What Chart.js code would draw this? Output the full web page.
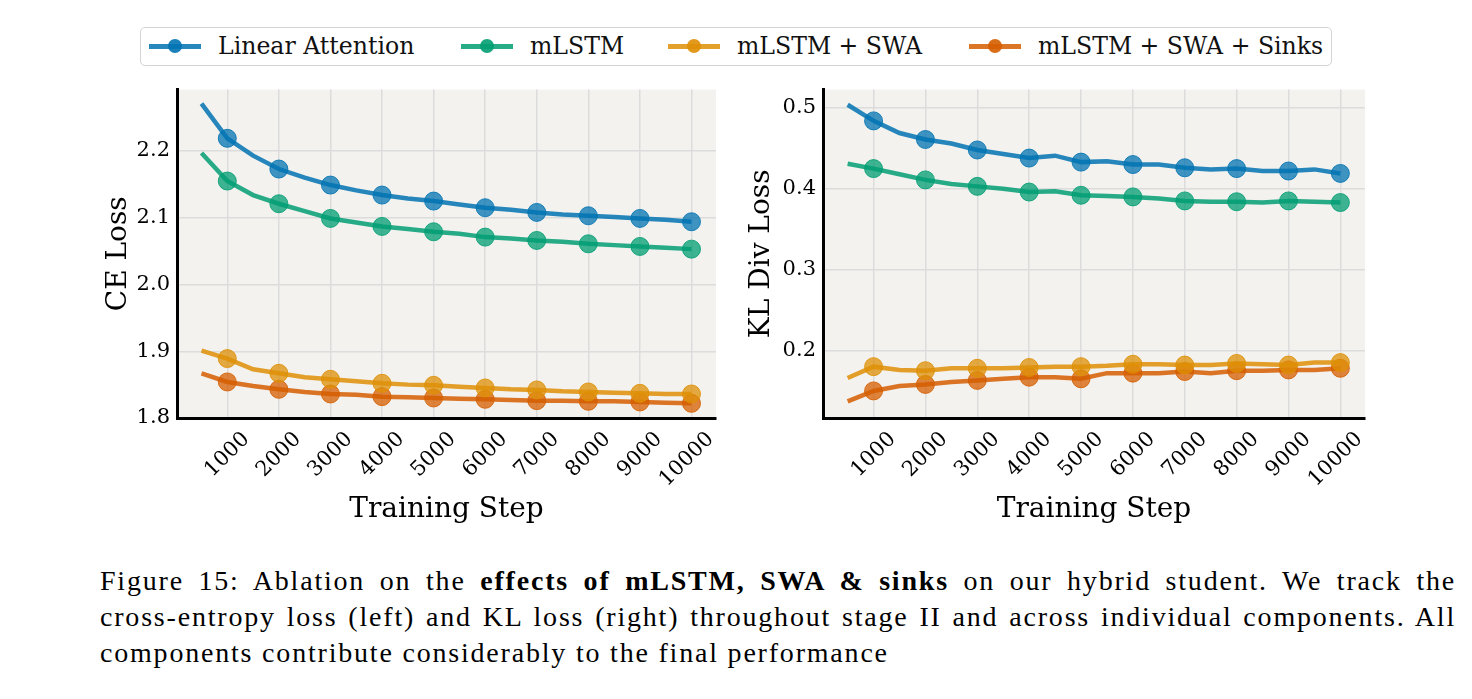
<!DOCTYPE html>
<html>
<head>
<meta charset="utf-8">
<script src="https://cdn.jsdelivr.net/npm/chart.js@4"></script>
<style>
  body { margin: 0; background: #fff; width: 1472px; height: 699px; position: relative; overflow: hidden; }
  .box { position: absolute; }
  #legend { position: absolute; left: 140px; top: 27px; width: 1192px; height: 39px; border: 1.5px solid #d4d4d4; border-radius: 5px;
            box-sizing: border-box; font-family: "DejaVu Serif"; font-size: 23.6px; color: #111; white-space: nowrap; }
  .item { position: absolute; top: 0; height: 36px; display: flex; align-items: center; }
  .sample { position: relative; width: 52px; height: 20px; margin-right: 17px; flex-shrink: 0; }
  .sample .ln { position: absolute; left: 0; right: 0; top: 8px; height: 4.5px; }
  .sample .dot { position: absolute; left: 19px; top: 3px; width: 14px; height: 14px; border-radius: 50%; }
  #caption { position: absolute; left: 100px; top: 563px; width: 1356px; font-family: "Liberation Serif"; font-size: 28px; letter-spacing: 1.8px; line-height: 36px; color: #000; }
  #caption .j { text-align: justify; text-align-last: justify; }
</style>
</head>
<body>
<div id="legend"></div>
<div class="box" style="left:0;top:70px"><canvas id="ce" width="740" height="470"></canvas></div>
<div class="box" style="left:740px;top:70px"><canvas id="kl" width="732" height="470"></canvas></div>
<div id="caption">
  <div class="j">Figure 15: Ablation on the <b>effects of mLSTM, SWA &amp; sinks</b> on our hybrid student. We track the</div>
  <div class="j">cross-entropy loss (left) and KL loss (right) throughout stage II and across individual components. All</div>
  <div>components contribute considerably to the final performance</div>
</div>
<script>
// データ
const seriesNames = ["Linear Attention", "mLSTM", "mLSTM + SWA", "mLSTM + SWA + Sinks"];
const seriesColors = ["1, 115, 178", "2, 158, 115", "222, 143, 5", "213, 94, 0"];
const steps = [500, 1000, 1500, 2000, 2500, 3000, 3500, 4000, 4500, 5000, 5500, 6000, 6500, 7000, 7500, 8000, 8500, 9000, 9500, 10000];
const xTicks = [1000, 2000, 3000, 4000, 5000, 6000, 7000, 8000, 9000, 10000];

const ceLinear = [2.271, 2.219, 2.193, 2.173, 2.160, 2.149, 2.141, 2.134, 2.129, 2.125, 2.120, 2.115, 2.112, 2.108, 2.105, 2.103, 2.101, 2.099, 2.097, 2.094];
const ceMlstm  = [2.197, 2.155, 2.134, 2.121, 2.110, 2.099, 2.093, 2.087, 2.083, 2.079, 2.076, 2.071, 2.069, 2.066, 2.064, 2.061, 2.059, 2.057, 2.055, 2.053];
const ceSwa    = [1.901, 1.889, 1.873, 1.867, 1.861, 1.858, 1.855, 1.852, 1.850, 1.849, 1.847, 1.845, 1.843, 1.842, 1.840, 1.839, 1.838, 1.837, 1.836, 1.836];
const ceSinks  = [1.867, 1.854, 1.848, 1.843, 1.839, 1.836, 1.835, 1.832, 1.831, 1.830, 1.829, 1.828, 1.827, 1.826, 1.826, 1.825, 1.825, 1.824, 1.823, 1.822];
const ceTicks = [1.8, 1.9, 2.0, 2.1, 2.2];

const klLinear = [0.504, 0.484, 0.469, 0.461, 0.456, 0.448, 0.443, 0.438, 0.441, 0.433, 0.434, 0.430, 0.430, 0.426, 0.424, 0.425, 0.422, 0.422, 0.424, 0.419];
const klMlstm  = [0.431, 0.425, 0.418, 0.411, 0.406, 0.403, 0.400, 0.396, 0.397, 0.392, 0.391, 0.390, 0.388, 0.385, 0.384, 0.384, 0.383, 0.385, 0.384, 0.383];
const klSwa    = [0.166, 0.180, 0.176, 0.175, 0.178, 0.178, 0.178, 0.179, 0.180, 0.180, 0.181, 0.183, 0.183, 0.182, 0.182, 0.184, 0.183, 0.182, 0.185, 0.185];
const klSinks  = [0.137, 0.150, 0.156, 0.158, 0.161, 0.163, 0.165, 0.167, 0.167, 0.165, 0.172, 0.172, 0.172, 0.174, 0.172, 0.175, 0.175, 0.176, 0.176, 0.178];
const klTicks = [0.2, 0.3, 0.4, 0.5];

// 凡例 (HTML) - 各項目の左端位置 (凡例枠からの距離)
const legendLeft = [8, 320, 527, 828];
const legend = document.getElementById("legend");
seriesNames.forEach((name, i) => {
  const c = seriesColors[i];
  legend.insertAdjacentHTML("beforeend",
    `<div class="item" style="left:${legendLeft[i]}px"><div class="sample"><div class="ln" style="background:rgba(${c},0.85)"></div>` +
    `<div class="dot" style="background:rgba(${c},0.9)"></div></div><span>${name}</span></div>`);
});

const plotBg = {
  id: "plotBg",
  beforeDraw(chart) {
    const a = chart.chartArea, ctx = chart.ctx;
    ctx.save();
    ctx.fillStyle = "#f3f2ee";
    ctx.fillRect(a.left, a.top, a.right - a.left, a.bottom - a.top);
    ctx.restore();
  }
};

const tickFont = { family: "DejaVu Serif", size: 21 };
const titleFont = { family: "DejaVu Serif", size: 28, lineHeight: 1.2 };

function makeDatasets(lists) {
  return lists.map((vals, i) => ({
    label: seriesNames[i],
    data: steps.map((s, k) => ({ x: s, y: vals[k] })),
    borderColor: `rgba(${seriesColors[i]}, 0.85)`,
    backgroundColor: `rgba(${seriesColors[i]}, 0.75)`,
    pointBackgroundColor: `rgba(${seriesColors[i]}, 0.75)`,
    pointBorderColor: `rgba(${seriesColors[i]}, 0.85)`,
    pointBorderWidth: 1,
    borderWidth: 4.5,
    tension: 0,
    pointRadius: ctx => (ctx.raw && ctx.raw.x % 1000 === 0) ? 9 : 0,
    pointHoverRadius: 0
  }));
}

function makeChart(id, lists, yMin, yMax, yTicks, yTitle, yWidth, yTitlePad, rightPad) {
  return new Chart(document.getElementById(id), {
    type: "line",
    data: { datasets: makeDatasets(lists) },
    options: {
      responsive: false,
      animation: false,
      layout: { padding: { top: 14, right: rightPad, left: 0, bottom: 0 } },
      plugins: { legend: { display: false }, tooltip: { enabled: false } },
      scales: {
        x: {
          type: "linear", min: 25, max: 10475,
          afterBuildTicks: s => { s.ticks = xTicks.map(v => ({ value: v })); },
          afterFit: s => { s.height = 122; },
          ticks: { font: tickFont, color: "#000", minRotation: 45, maxRotation: 45, autoSkip: false, padding: 9, labelOffset: 19,
                   callback: v => String(v) },
          grid: { color: "#dcdcdc", lineWidth: 1.5, drawTicks: false },
          border: { display: true, color: "#000", width: 3 },
          title: { display: true, text: "Training Step", font: titleFont, color: "#000", padding: { top: 0, bottom: 13 } }
        },
        y: {
          min: yMin, max: yMax,
          afterBuildTicks: s => { s.ticks = yTicks.map(v => ({ value: v })); },
          afterFit: s => { s.width = yWidth; },
          ticks: { font: tickFont, color: "#000", padding: 7, callback: v => v.toFixed(1) },
          grid: { color: "#dcdcdc", lineWidth: 1.5, drawTicks: false },
          border: { display: true, color: "#000", width: 3 },
          title: { display: true, text: yTitle, font: titleFont, color: "#000", padding: { top: yTitlePad, bottom: 0 } }
        }
      }
    },
    plugins: [plotBg]
  });
}

makeChart("ce", [ceLinear, ceMlstm, ceSwa, ceSinks], 1.8, 2.292, ceTicks, "CE Loss", 177, 102, 24);
makeChart("kl", [klLinear, klMlstm, klSwa, klSinks], 0.1165, 0.5227, klTicks, "KL Div Loss", 83, 5, 107);
</script>
</body>
</html>
